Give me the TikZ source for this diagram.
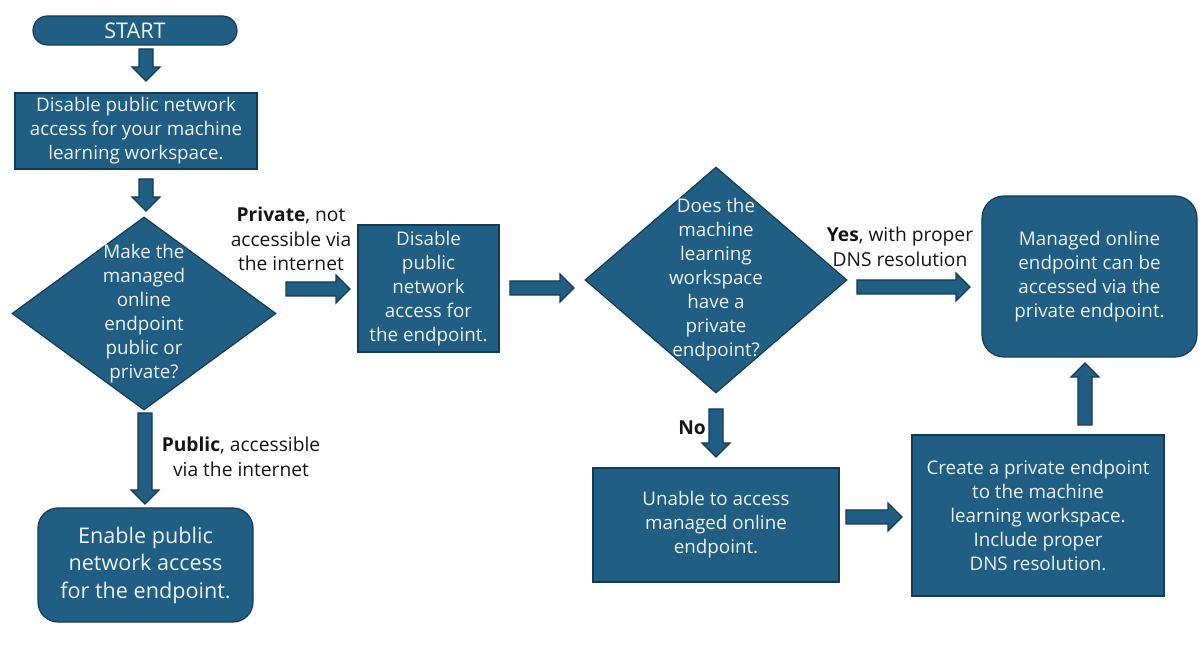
\documentclass[tikz,border=0pt]{standalone}
\usepackage{fontspec}
\setmainfont{Open Sans}
\usetikzlibrary{shapes.geometric,calc,positioning}
\definecolor{boxfill}{HTML}{215E84}
\definecolor{boxline}{HTML}{143B54}
\definecolor{boxtext}{HTML}{EEF3F6}
\tikzstyle{procbox}=[rectangle, draw=boxline, fill=boxfill, text=boxtext, line width=0.6pt, align=center, inner sep=0pt, font=\fontsize{9.4}{12}\selectfont]
\tikzstyle{endbox}=[procbox, rounded corners=11pt]
\tikzstyle{decision}=[diamond, draw=boxline, fill=boxfill, line width=0.6pt, inner sep=0pt]
\tikzstyle{dectext}=[text=boxtext, align=center, font=\fontsize{9.4}{12}\selectfont]
\tikzstyle{lbl}=[align=center, text=black!92, font=\fontsize{9.6}{12.2}\selectfont]
\tikzstyle{fat}=[draw=boxline, fill=boxfill, line width=0.6pt, line join=miter]
% block arrow between two named coordinates
\newcommand{\fatarrow}[2]{%
  \coordinate (fa-h) at ($(#2)!7pt!(#1)$);
  \draw[fat] ($(#1)!3.5pt!90:(#2)$) -- ($(fa-h)!3.5pt!90:(#2)$) -- ($(fa-h)!7pt!90:(#2)$) -- (#2)
    -- ($(fa-h)!7pt!-90:(#2)$) -- ($(fa-h)!3.5pt!-90:(#2)$) -- ($(#1)!3.5pt!-90:(#2)$) -- cycle;}
\begin{document}
\begin{tikzpicture}[x=0.5pt,y=-0.5pt]
\useasboundingbox (0,0) rectangle (1200,662);

\node (start) [procbox, rounded corners=7.25pt, minimum width=102pt, minimum height=14.5pt, font=\fontsize{10.8}{12}\selectfont] at (135,30.5) {START};
\node (ws) [procbox, minimum width=121pt, minimum height=38pt] at (136,131) {Disable public network\\access for your machine\\learning workspace.};
\node (pubpriv) [decision, minimum width=132pt, minimum height=96.5pt,
  label={[dectext]center:Make the\\managed\\online\\endpoint\\public or\\private?}] at (144,313.5) {};
\node (disable) [procbox, minimum width=70.5pt, minimum height=63.5pt] at (428.5,288.5) {Disable\\public\\network\\access for\\the endpoint.};
\node (haspe) [decision, minimum width=131pt, minimum height=113pt,
  label={[dectext]center:Does the\\machine\\learning\\workspace\\have a\\private\\endpoint?}] at (716,280) {};
\node (access) [endbox, minimum width=107.5pt, minimum height=80.5pt] at (1089.5,276.5) {Managed online\\endpoint can be\\accessed via the\\private endpoint.};
\node (unable) [procbox, minimum width=123pt, minimum height=57pt] at (716,525) {Unable to access\\managed online\\endpoint.};
\node (create) [procbox, minimum width=126pt, minimum height=80.5pt] at (1038,515.5) {Create a private endpoint\\to the machine\\learning workspace.\\Include proper\\DNS resolution.};
\node (enable) [endbox, rounded corners=10pt, minimum width=107.5pt, minimum height=57pt, font=\fontsize{10.8}{13.8}\selectfont] at (145.5,565) {Enable public\\network access\\for the endpoint.};

\node (lprivate) [lbl] at (291,239) {\textbf{Private}, not\\accessible via\\the internet};
\node (lpublic) [lbl] at (241,457) {\textbf{Public}, accessible\\via the internet};
\node (lyes) [lbl] at (900,247) {\textbf{Yes}, with proper\\DNS resolution};
\node (lno) [lbl] at (692,428) {\textbf{No}};

\coordinate (a1s) at (146,49);   \coordinate (a1e) at (146,81);
\coordinate (a2s) at (146,179);  \coordinate (a2e) at (146,211);
\coordinate (a3s) at (286,289);  \coordinate (a3e) at (350,289);
\coordinate (a4s) at (510,288);  \coordinate (a4e) at (574,288);
\coordinate (a5s) at (857,287);  \coordinate (a5e) at (970,287);
\coordinate (a6s) at (716,409);  \coordinate (a6e) at (716,457);
\coordinate (a7s) at (145,413);  \coordinate (a7e) at (145,504);
\coordinate (a8s) at (846,517);  \coordinate (a8e) at (902,517);
\coordinate (a9s) at (1085,425); \coordinate (a9e) at (1085,363);

\fatarrow{a1s}{a1e}
\fatarrow{a2s}{a2e}
\fatarrow{a3s}{a3e}
\fatarrow{a4s}{a4e}
\fatarrow{a5s}{a5e}
\fatarrow{a6s}{a6e}
\fatarrow{a7s}{a7e}
\fatarrow{a8s}{a8e}
\fatarrow{a9s}{a9e}
\end{tikzpicture}
\end{document}
